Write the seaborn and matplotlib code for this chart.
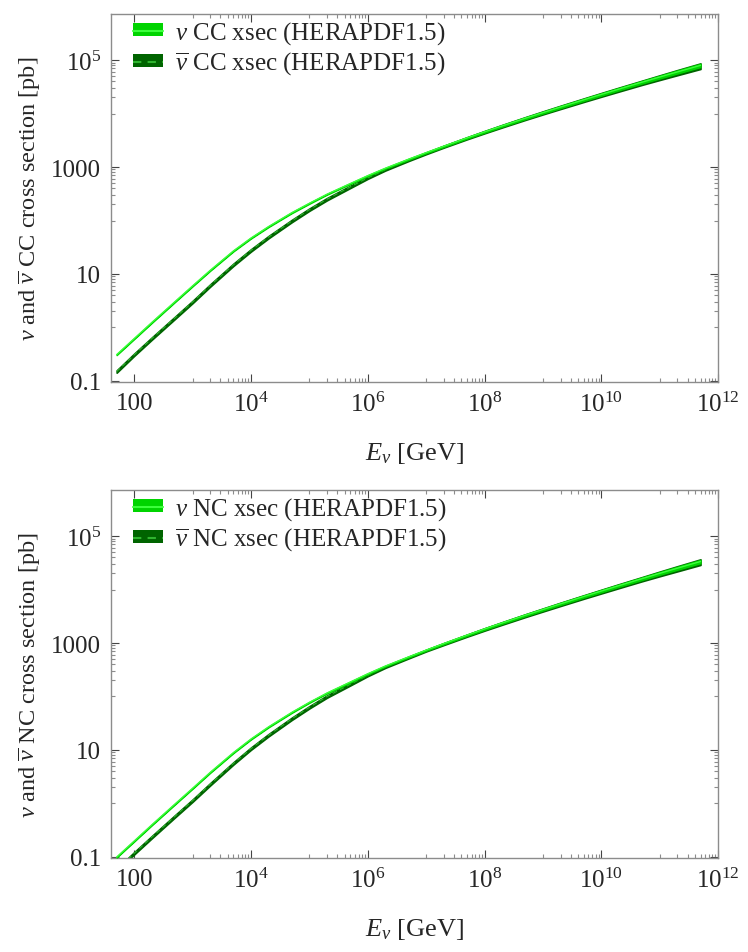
import numpy as np
import pandas as pd
import matplotlib
matplotlib.use("Agg")
import matplotlib.pyplot as plt
import seaborn as sns
from matplotlib.patches import Patch
from matplotlib.lines import Line2D
from matplotlib.ticker import FixedLocator, FixedFormatter

# ---------------- data ----------------
energy = [50, 100, 200, 500, 1e3, 2e3, 5e3, 1e4, 2e4, 5e4, 1e5, 2e5, 5e5,
          1e6, 2e6, 5e6, 1e7, 2e7, 5e7, 1e8, 2e8, 5e8, 1e9, 2e9, 5e9,
          1e10, 2e10, 5e10, 1e11, 2e11, 5e11]

cc_nu = [0.31, 0.62, 1.24, 3.05, 6.0, 11.7, 27, 47, 77, 140, 210, 310, 490,
         690, 950, 1400, 1860, 2450, 3510, 4560, 5900, 8200, 10450, 13280, 18120,
         22850, 28720, 38700, 48300, 60100, 79800]
cc_nubar = [0.15, 0.31, 0.62, 1.52, 3.0, 6.1, 14.9, 27.7, 49, 98, 160, 251, 426,
            628, 893, 1344, 1805, 2404, 3455, 4500, 5820, 8100, 10330, 13100, 17850,
            22480, 28200, 37900, 47200, 58600, 77600]
nc_nu = [0.099, 0.198, 0.397, 0.976, 1.92, 3.80, 8.91, 16.0, 27.0, 50.4, 77.7, 116, 186,
         266, 371, 550, 737, 976, 1403, 1834, 2376, 3321, 4245, 5417, 7430,
         9392, 11863, 16058, 20137, 25110, 33530]
nc_nubar = [0.057, 0.117, 0.234, 0.576, 1.13, 2.28, 5.61, 10.6, 18.9, 38.3, 62.9, 99.8, 169,
            250, 356, 534, 722, 956, 1375, 1797, 2328, 3255, 4160, 5309, 7281,
            9204, 11626, 15737, 19734, 24608, 32860]
# relative PDF uncertainty (half width of band)
err_nu = [0.02] * 13 + [0.02, 0.02, 0.025, 0.025, 0.03, 0.03, 0.035, 0.035, 0.04,
                         0.04, 0.045, 0.045, 0.05, 0.05, 0.055, 0.06, 0.065, 0.07]
err_nubar = [0.05] * 13 + [0.04, 0.035, 0.035, 0.035, 0.04, 0.045, 0.05, 0.055,
                            0.06, 0.065, 0.07, 0.075, 0.08, 0.085, 0.09, 0.10, 0.11, 0.12]

x_ticks = [1e2, 1e4, 1e6, 1e8, 1e10, 1e12]
x_ticklabels = ["100", "$10^{4}$", "$10^{6}$", "$10^{8}$", "$10^{10}$", "$10^{12}$"]
y_ticks = [0.1, 10, 1000, 1e5]
y_ticklabels = ["0.1", "10", "1000", "$10^{5}$"]

# ---------------- style ----------------
sns.set_theme(style="ticks")
plt.rcParams["font.family"] = ["Liberation Serif", "DejaVu Serif"]
plt.rcParams["mathtext.fontset"] = "custom"
plt.rcParams["mathtext.rm"] = "Liberation Serif"
plt.rcParams["mathtext.it"] = "Liberation Serif:italic"
plt.rcParams["mathtext.bf"] = "Liberation Serif:bold"

NU_BAND = "#00d400"
NU_LINE = "#3cff3c"
NUB_BAND = "#006400"
NUB_LINE = "#2fb52f"
FRAME = "#8c8c8c"

fig = plt.figure(figsize=(7.48, 9.53), dpi=100)
ax1 = fig.add_axes([0.1484, 0.598, 0.8116, 0.3863])
ax2 = fig.add_axes([0.1484, 0.0986, 0.8116, 0.3862])


def draw(ax, nu, nubar, kind):
    df = pd.DataFrame({"E": energy, "nu": nu, "nubar": nubar,
                       "en": err_nu, "eb": err_nubar})
    # antineutrino band (drawn first)
    ax.fill_between(df["E"], df["nubar"] * (1 - df["eb"]), df["nubar"] * (1 + df["eb"]),
                    color=NUB_BAND, lw=1.2, edgecolor=NUB_BAND, zorder=2)
    sns.lineplot(data=df, x="E", y="nubar", ax=ax, color=NUB_LINE, lw=0.8,
                 legend=False, zorder=3)
    ax.lines[-1].set_dashes((4, 3))
    ax.fill_between(df["E"], df["nu"] * (1 - df["en"]), df["nu"] * (1 + df["en"]),
                    color=NU_BAND, lw=1.0, edgecolor=NU_BAND, zorder=4)
    sns.lineplot(data=df, x="E", y="nu", ax=ax, color=NU_LINE, lw=1.0,
                 legend=False, zorder=5)
    ax.set_xscale("log")
    ax.set_yscale("log")
    ax.set_xlim(40, 1e12)
    ax.set_ylim(0.095, 7.3e5)

    ax.xaxis.set_major_locator(FixedLocator(x_ticks))
    ax.xaxis.set_major_formatter(FixedFormatter(x_ticklabels))
    ax.yaxis.set_major_locator(FixedLocator(y_ticks))
    ax.yaxis.set_major_formatter(FixedFormatter(y_ticklabels))
    xminor = [k * 10.0 ** p for p in (3, 5, 7, 9, 11) for k in range(1, 10)]
    yminor = [k * 10.0 ** p for p in (0, 2, 4) for k in range(1, 10)]
    ax.xaxis.set_minor_locator(FixedLocator(xminor))
    ax.yaxis.set_minor_locator(FixedLocator(yminor))
    ax.xaxis.set_minor_formatter(FixedFormatter([""] * len(xminor)))
    ax.yaxis.set_minor_formatter(FixedFormatter([""] * len(yminor)))

    ax.tick_params(which="both", direction="in", top=True, right=True,
                   labelsize=18, color="#444444", width=0.8)
    ax.tick_params(which="major", length=6, pad=7)
    ax.tick_params(which="minor", length=3, color=FRAME)
    for s in ax.spines.values():
        s.set_color(FRAME)
        s.set_linewidth(1.0)

    ax.set_xlabel(r"$E_{\nu}$ [GeV]", fontsize=19, labelpad=17)
    ax.set_ylabel(r"$\nu$ and $\overline{\nu}$ " + kind + " cross section [pb]",
                  fontsize=17.5, labelpad=6)

    handles = [(Patch(facecolor=NU_BAND, edgecolor="none"),
                Line2D([], [], color=NU_LINE, lw=1.5)),
               (Patch(facecolor=NUB_BAND, edgecolor="none"),
                Line2D([], [], color=NUB_LINE, lw=1.5, dashes=(4, 3)))]
    labels = [r"$\nu$ " + kind + " xsec (HERAPDF1.5)",
              r"$\overline{\nu}$ " + kind + " xsec (HERAPDF1.5)"]
    ax.legend(handles, labels, loc="upper left", bbox_to_anchor=(0.036, 0.986),
              frameon=False, fontsize=18, handlelength=1.2, handleheight=0.45,
              handletextpad=0.5, labelspacing=0.15, borderaxespad=0.0, borderpad=0.0)


draw(ax1, cc_nu, cc_nubar, "CC")
draw(ax2, nc_nu, nc_nubar, "NC")

fig.savefig("out.png", dpi=100)
